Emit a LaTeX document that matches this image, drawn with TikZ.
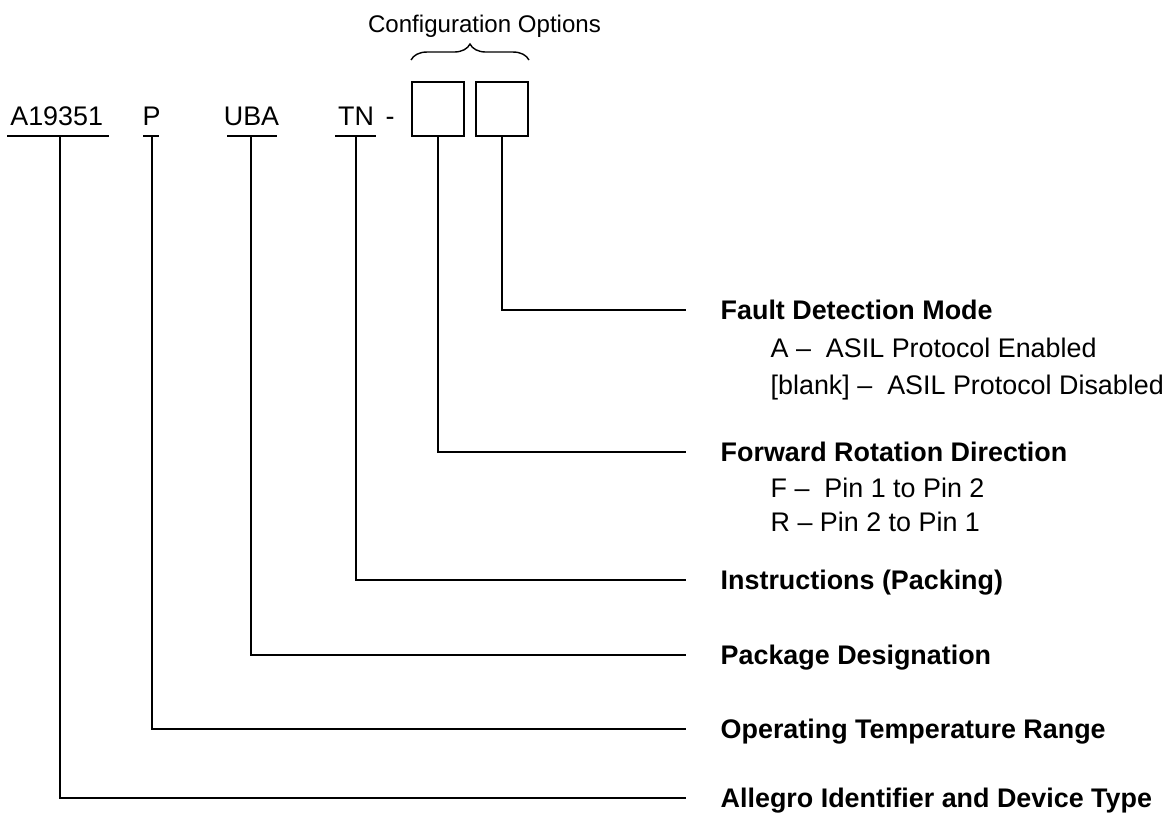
\documentclass[tikz,border=0pt]{standalone}
\usepackage{fontspec}
\setmainfont{Liberation Sans}
\usetikzlibrary{positioning,decorations.pathreplacing}
\tikzset{
  code/.style={anchor=base,inner sep=0pt,font=\fontsize{15.3}{18}\selectfont},
  lbl/.style={inner sep=0pt,text height=10.9pt,text depth=0pt,font=\fontsize{15.3}{18}\selectfont\bfseries},
  opt/.style={inner sep=0pt,text height=10.9pt,text depth=0pt,font=\fontsize{15.3}{18}\selectfont},
  slot/.style={draw,line width=1.1pt,minimum width=1.04cm,minimum height=1.08cm,inner sep=0pt},
}
\begin{document}
\begin{tikzpicture}[line width=0.8pt]
        \useasboundingbox (0,0) rectangle (23.46,16.34);
        % part number
        \foreach \n/\t/\x in {a/A19351/1.134,p/P/3.03,u/UBA/5.03,t/TN/7.12}
        \node[code] (\n) at (\x,13.82) {\t};
        \node[code] (dash) at (7.80,13.82) {-};
        \foreach \l/\r in {0.14/2.18,2.86/3.18,4.54/5.54,6.70/7.52}
        \draw (\l,13.62)--(\r,13.62);
        \node[slot] (b1) at (8.76,14.16) {};
        \node[slot] (b2) at (10.04,14.16) {};
        \draw[decorate,decoration={brace,amplitude=0.32cm}]([yshift=0.42cm]b1.north west)--([yshift=0.42cm]b2.north east);
        \node[opt,font=\fontsize{13.7}{16}\selectfont] (cfg) at (9.69,15.89) {Configuration Options};
        % drop points and line ends
        \coordinate (ua) at (1.20,13.62);
        \coordinate (up) at (3.04,13.62);
        \coordinate (uu) at (5.02,13.62);
        \coordinate (ut) at (7.12,13.62);
        \coordinate (eF) at (13.72,10.14);
        \coordinate (eR) at (13.72,7.30);
        \coordinate (eI) at (13.72,4.74);
        \coordinate (eP) at (13.72,3.24);
        \coordinate (eO) at (13.72,1.76);
        \coordinate (eA) at (13.72,0.38);
        % fields
        \node[lbl,right=0.68cm of eF] (lF) {Fault Detection Mode};
        \node[opt,right=1.68cm of eF,yshift=-0.76cm] (oF1) {A -- \ ASIL Protocol Enabled};
        \node[opt,right=1.68cm of eF,yshift=-1.50cm] (oF2) {[blank] -- \ ASIL Protocol Disabled};
        \node[lbl,right=0.68cm of eR] (lR) {Forward Rotation Direction};
        \node[opt,right=1.68cm of eR,yshift=-0.72cm] (oR1) {F -- \ Pin 1 to Pin 2};
        \node[opt,right=1.68cm of eR,yshift=-1.40cm] (oR2) {R -- Pin 2 to Pin 1};
        \node[lbl,right=0.68cm of eI] (lI) {Instructions (Packing)};
        \node[lbl,right=0.68cm of eP] (lP) {Package Designation};
        \node[lbl,right=0.68cm of eO] (lO) {Operating Temperature Range};
        \node[lbl,right=0.68cm of eA] (lA) {Allegro Identifier and Device Type};
        \draw (b2.south) |- (eF);
        \draw (b1.south) |- (eR);
        \draw (ut) |- (eI);
        \draw (uu) |- (eP);
        \draw (up) |- (eO);
        \draw (ua) |- (eA);
\end{tikzpicture}
\end{document}
